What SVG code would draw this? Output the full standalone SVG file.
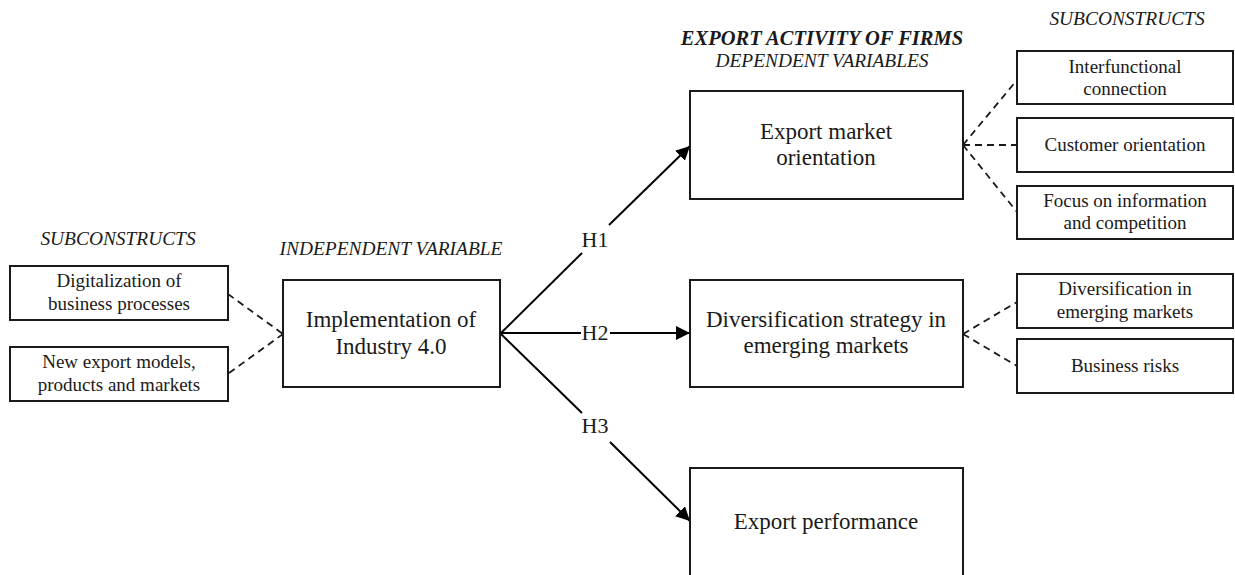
<svg xmlns="http://www.w3.org/2000/svg" width="1235" height="575" viewBox="0 0 1235 575">
<style>
.box{fill:#fff;stroke:#1a1a1a;stroke-width:2}
.t{font-family:"Liberation Serif","Times New Roman",serif;fill:#1a1a1a;text-anchor:middle}
.big{font-size:23px}
.sm{font-size:19px}
.h{font-size:22px}
.lab{font-size:19.4px;font-style:italic}
.bold{font-weight:bold;font-size:20.5px}
.arr{stroke:#000;stroke-width:2;fill:none}
.dash{stroke:#1a1a1a;stroke-width:1.8;stroke-dasharray:7,5;fill:none}
</style>
<defs>
<marker id="ah" viewBox="0 0 10 10" refX="10" refY="5" markerWidth="7" markerHeight="7" markerUnits="strokeWidth" orient="auto">
<path d="M0,0 L10,5 L0,10 z" fill="#000"/>
</marker>
</defs>
<rect width="1235" height="575" fill="#fff"/>

<g id="labels">
<text class="t lab" x="118" y="245">SUBCONSTRUCTS</text>
<text class="t lab" x="391" y="255">INDEPENDENT VARIABLE</text>
<text class="t lab bold" x="822" y="45">EXPORT ACTIVITY OF FIRMS</text>
<text class="t lab" x="822" y="67">DEPENDENT VARIABLES</text>
<text class="t lab" x="1127" y="25">SUBCONSTRUCTS</text>
</g>

<g id="connectors">
<path class="arr" d="M501,333 L582,253"/>
<path class="arr" d="M609,225 L690,146" marker-end="url(#ah)"/>
<path class="arr" d="M501,333 L581,333"/>
<path class="arr" d="M610,333 L690,333" marker-end="url(#ah)"/>
<path class="arr" d="M501,334 L582,413"/>
<path class="arr" d="M610,442 L690,521" marker-end="url(#ah)"/>
<text class="t h" x="595" y="247">H1</text>
<text class="t h" x="595" y="340">H2</text>
<text class="t h" x="595" y="433">H3</text>
<path class="dash" d="M228,294 L283,334"/>
<path class="dash" d="M229,373 L283,334"/>
<path class="dash" d="M963,145 L1017,80"/>
<path class="dash" d="M963,145 L1017,145"/>
<path class="dash" d="M963,145 L1017,212"/>
<path class="dash" d="M963,334 L1017,302"/>
<path class="dash" d="M963,334 L1017,366"/>
</g>

<g id="n-digitalization">
<rect class="box" x="10" y="266" width="218" height="54"/>
<text class="t sm" x="119" y="287">Digitalization of</text>
<text class="t sm" x="119" y="310">business processes</text>
</g>
<g id="n-newexport">
<rect class="box" x="10" y="347" width="218" height="54"/>
<text class="t sm" x="119" y="368">New export models,</text>
<text class="t sm" x="119" y="391">products and markets</text>
</g>
<g id="n-implementation">
<rect class="box" x="283" y="280" width="217" height="107"/>
<text class="t big" x="391" y="327">Implementation of</text>
<text class="t big" x="391" y="354">Industry 4.0</text>
</g>
<g id="n-emo">
<rect class="box" x="690" y="91" width="273" height="108"/>
<text class="t big" x="826" y="139">Export market</text>
<text class="t big" x="826" y="165">orientation</text>
</g>
<g id="n-diversification">
<rect class="box" x="690" y="280" width="273" height="107"/>
<text class="t big" x="826" y="327">Diversification strategy in</text>
<text class="t big" x="826" y="353">emerging markets</text>
</g>
<g id="n-performance">
<rect class="box" x="690" y="468" width="273" height="112"/>
<text class="t big" x="826" y="529">Export performance</text>
</g>
<g id="n-interfunctional">
<rect class="box" x="1017" y="51" width="216" height="53"/>
<text class="t sm" x="1125" y="73">Interfunctional</text>
<text class="t sm" x="1125" y="95">connection</text>
</g>
<g id="n-customer">
<rect class="box" x="1017" y="118" width="216" height="54"/>
<text class="t sm" x="1125" y="151">Customer orientation</text>
</g>
<g id="n-focus">
<rect class="box" x="1017" y="186" width="216" height="53"/>
<text class="t sm" x="1125" y="207">Focus on information</text>
<text class="t sm" x="1125" y="229">and competition</text>
</g>
<g id="n-divem">
<rect class="box" x="1017" y="274" width="216" height="54"/>
<text class="t sm" x="1125" y="295">Diversification in</text>
<text class="t sm" x="1125" y="318">emerging markets</text>
</g>
<g id="n-risks">
<rect class="box" x="1017" y="339" width="216" height="54"/>
<text class="t sm" x="1125" y="372">Business risks</text>
</g>
</svg>
